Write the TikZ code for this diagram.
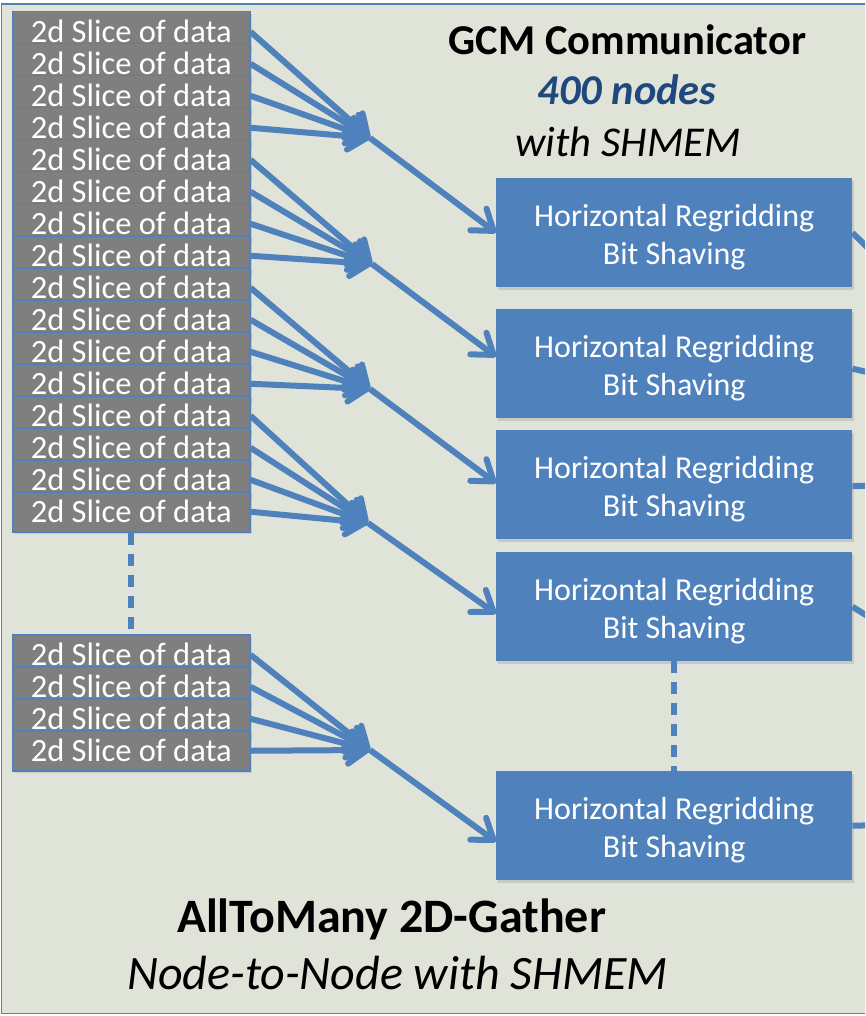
\documentclass[tikz,border=0pt]{standalone}
\usepackage{fontspec}
\setmainfont{Carlito}
\usetikzlibrary{arrows.meta,shadows}
\definecolor{slideback}{HTML}{DFE3D8}
\definecolor{accblue}{HTML}{4F81BD}
\definecolor{slicegray}{HTML}{7F7F7F}
\definecolor{countblue}{HTML}{1F497D}
\tikzset{
	slice/.style={draw=accblue, line width=1.5pt, fill=slicegray, text=white, anchor=north west,
		minimum width=237pt, inner sep=0pt, text height=31pt, text depth=9pt,
		font=\fontsize{32.5}{38}\selectfont,
		drop shadow={shadow xshift=2pt, shadow yshift=-2pt, opacity=0.25}},
	regrid/.style={fill=accblue, text=white, anchor=north west, align=center,
		minimum width=356pt, minimum height=109pt, inner sep=0pt,
		font=\fontsize{32}{38}\selectfont,
		drop shadow={shadow xshift=2pt, shadow yshift=-3pt, opacity=0.25}},
	feed/.style={draw=accblue, line width=6pt, -{Straight Barb[length=19pt,width=27pt,round]}},
	stub/.style={draw=accblue, line width=6pt},
	gapline/.style={draw=accblue, line width=6pt, dash pattern=on 12pt off 9pt},
}

\begin{document}
\begin{tikzpicture}[x=1pt, y=-1pt]
		%%%%% START %%%%%
		\useasboundingbox (0, 0) rectangle (865, 1016);
		\clip (0, 0) rectangle (865, 1016);
		
		\draw[fill=slideback, draw=accblue, line width=1.5pt] (1.5, 4) rectangle (900, 1013.5);
		
		% titles
		\node[anchor=base, font=\fontsize{42.5}{50}\selectfont\bfseries] (gcm) at (627.5, 55) {GCM Communicator};
		\node[anchor=base, font=\fontsize{42.5}{50}\selectfont\bfseries\itshape, text=countblue] (count) at (627, 105) {400 nodes};
		\node[anchor=base, font=\fontsize{42.5}{50}\selectfont\itshape] (shmem) at (628, 157) {with SHMEM};
		
		\node[anchor=base, font=\fontsize{48}{56}\selectfont\bfseries] (gather) at (391.5, 932) {AllToMany 2D-Gather};
		\node[anchor=base, font=\fontsize{48}{56}\selectfont\itshape] (n2n) at (397.5, 989) {Node-to-Node with SHMEM};
		
		% slices of data
		\node[slice] (s1) at (12, 11) {2d Slice of data};
		\node[slice] (s2) at (12, 43) {2d Slice of data};
		\node[slice] (s3) at (12, 75) {2d Slice of data};
		\node[slice] (s4) at (12, 107) {2d Slice of data};
		\node[slice] (s5) at (12, 139) {2d Slice of data};
		\node[slice] (s6) at (12, 171) {2d Slice of data};
		\node[slice] (s7) at (12, 203) {2d Slice of data};
		\node[slice] (s8) at (12, 235) {2d Slice of data};
		\node[slice] (s9) at (12, 267) {2d Slice of data};
		\node[slice] (s10) at (12, 299) {2d Slice of data};
		\node[slice] (s11) at (12, 331) {2d Slice of data};
		\node[slice] (s12) at (12, 363) {2d Slice of data};
		\node[slice] (s13) at (12, 395) {2d Slice of data};
		\node[slice] (s14) at (12, 427) {2d Slice of data};
		\node[slice] (s15) at (12, 459) {2d Slice of data};
		\node[slice] (s16) at (12, 491) {2d Slice of data};
		
		\node[slice] (s17) at (12, 634) {2d Slice of data};
		\node[slice] (s18) at (12, 666) {2d Slice of data};
		\node[slice] (s19) at (12, 698) {2d Slice of data};
		\node[slice] (s20) at (12, 730) {2d Slice of data};
		
		\draw[gapline] (s16.south) -- (s17.north);
		
		% regridding boxes
		\node[regrid] (h1) at (496, 178) {\rule{0pt}{32pt}Horizontal Regridding\\Bit Shaving};
		\node[regrid] (h2) at (496, 309) {\rule{0pt}{32pt}Horizontal Regridding\\Bit Shaving};
		\node[regrid] (h3) at (496, 430) {\rule{0pt}{32pt}Horizontal Regridding\\Bit Shaving};
		\node[regrid] (h4) at (496, 552) {\rule{0pt}{32pt}Horizontal Regridding\\Bit Shaving};
		\node[regrid] (h5) at (496, 771) {\rule{0pt}{32pt}Horizontal Regridding\\Bit Shaving};
		
		\draw[gapline] (h4.south) -- (h5.north);
		
		% gather points
		\coordinate (c1) at (370, 138);
		\coordinate (c2) at (372, 264);
		\coordinate (c3) at (370, 389);
		\coordinate (c4) at (368, 523);
		\coordinate (c5) at (370, 750);
		
		\draw[feed] (s1.east) -- (c1);
		\draw[feed] (s2.east) -- (c1);
		\draw[feed] (s3.east) -- (c1);
		\draw[feed] (s4.east) -- (c1);
		\draw[feed] (c1) -- (h1.west);
		
		\draw[feed] (s5.east) -- (c2);
		\draw[feed] (s6.east) -- (c2);
		\draw[feed] (s7.east) -- (c2);
		\draw[feed] (s8.east) -- (c2);
		\draw[feed] (c2) -- ([yshift=7pt]h2.west);
		
		\draw[feed] (s9.east) -- (c3);
		\draw[feed] (s10.east) -- (c3);
		\draw[feed] (s11.east) -- (c3);
		\draw[feed] (s12.east) -- (c3);
		\draw[feed] (c3) -- ([yshift=1.5pt]h3.west);
		
		\draw[feed] (s13.east) -- (c4);
		\draw[feed] (s14.east) -- (c4);
		\draw[feed] (s15.east) -- (c4);
		\draw[feed] (s16.east) -- (c4);
		\draw[feed] (c4) -- ([yshift=-7pt]h4.west);
		
		\draw[feed] (s17.east) -- (c5);
		\draw[feed] (s18.east) -- (c5);
		\draw[feed] (s19.east) -- (c5);
		\draw[feed] (s20.east) -- (c5);
		\draw[feed] (c5) -- ([yshift=-16pt]h5.west);
		
		% leaving to the right
		\coordinate (o1) at (885, 265);
		\coordinate (o2) at (885, 376);
		\coordinate (o3) at (885, 485);
		\coordinate (o4) at (885, 627);
		\coordinate (o5) at (885, 825);
		\draw[stub] (h1.east) -- (o1);
		\draw[stub] ([yshift=-5pt]h2.east) -- (o2);
		\draw[stub] ([yshift=-1.5pt]h3.east) -- (o3);
		\draw[stub] (h4.east) -- (o4);
		\draw[stub] (h5.east) -- (o5);
		
		%%%%% END %%%%%
\end{tikzpicture}
\end{document}
